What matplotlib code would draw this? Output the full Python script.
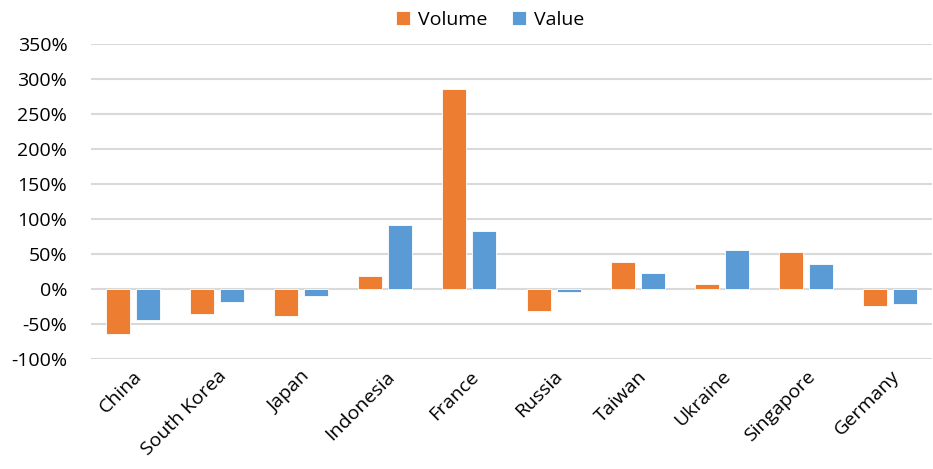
import matplotlib.pyplot as plt
import numpy as np
from matplotlib.ticker import FuncFormatter

countries = ['China', 'South Korea', 'Japan', 'Indonesia', 'France',
             'Russia', 'Taiwan', 'Ukraine', 'Singapore', 'Germany']
volume = [-64, -36, -39, 18, 285, -31, 38, 7, 52, -25]
value = [-45, -19, -10, 91, 83, -5, 23, 55, 35, -22]

plt.rcParams['font.family'] = ['Open Sans', 'DejaVu Sans']

fig = plt.figure(figsize=(9.33, 4.69), dpi=100)
ax = fig.add_axes([0.0975, 0.2345, 0.9015, 0.6725])

x = np.arange(len(countries))
w = 0.285
ax.bar(x - w/2 - 0.036, volume, w, color='#ED7D31', edgecolor='white', linewidth=0.6, label='Volume', zorder=3)
ax.bar(x + w/2 + 0.036, value, w, color='#5B9BD5', edgecolor='white', linewidth=0.6, label='Value', zorder=3)

ax.set_xlim(-0.5, len(countries) - 0.5)
ax.set_ylim(-100, 350)
ax.set_yticks(np.arange(-100, 351, 50))
ax.yaxis.set_major_formatter(FuncFormatter(lambda v, p: '%d%%' % v))
ax.grid(axis='y', color='#D9D9D9', linewidth=1.5, zorder=0)
for s in ax.spines.values():
    s.set_visible(False)
ax.tick_params(axis='both', length=0, labelsize=14, colors='#000000')
ax.tick_params(axis='y', pad=17)
ax.tick_params(axis='x', pad=6)
ax.set_xticks(x)
ax.set_xticklabels(countries, rotation=45, ha='right', rotation_mode='anchor')

fig.legend(loc='center', bbox_to_anchor=(490/933, 1 - 20/469), ncol=2, frameon=False,
           fontsize=14, handlelength=0.7, handleheight=0.7, handletextpad=0.4, columnspacing=1.3)

fig.savefig('out.png', dpi=100)
